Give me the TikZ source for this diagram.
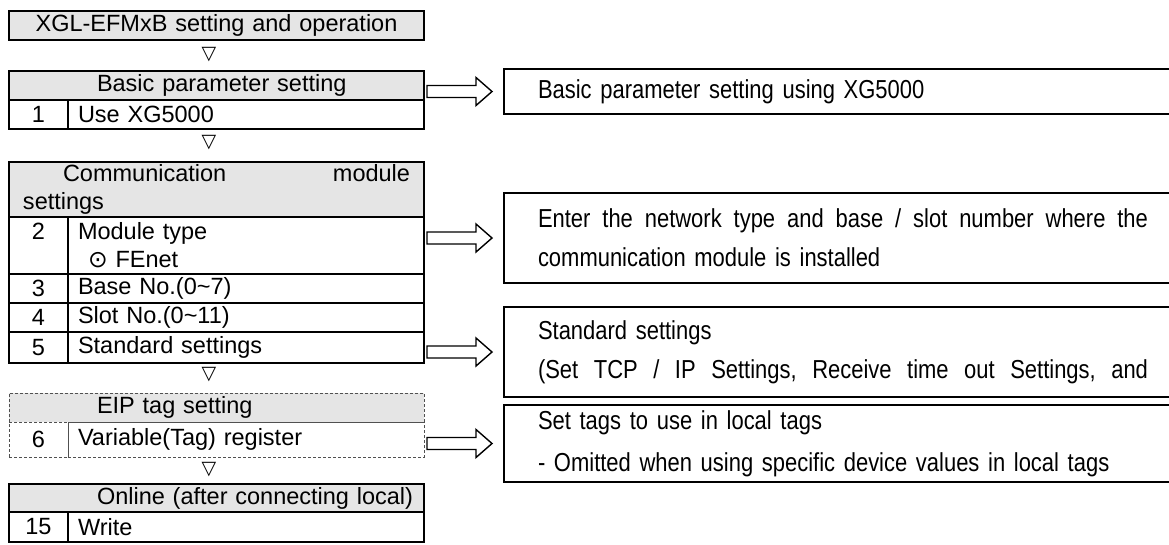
\documentclass[tikz,border=0pt]{standalone}
\usepackage{fontspec}
\setmainfont{Liberation Sans}
\newfontfamily\symfont{DejaVu Sans}
\newfontfamily\narrowfont[FakeStretch=0.845]{Liberation Sans}
\usetikzlibrary{positioning,calc}
\definecolor{hdrgray}{RGB}{229,229,229}
\definecolor{dashgray}{RGB}{80,80,80}
\newcommand\tblfont{\fontsize{23.5}{28}\selectfont}
\newcommand\notefont{\narrowfont\fontsize{26}{39}\selectfont}
\newcommand\gap{\hspace{0pt plus 1fill}\ }
\tikzset{
  tblline/.style={draw=black, line width=1.8pt, outer sep=0pt},
  hdr/.style={tblline, fill=hdrgray, minimum width=415pt, minimum height=29pt, anchor=north west, inner sep=0pt, text width=387pt, align=left, font=\tblfont},
  numcell/.style={tblline, minimum width=59pt, minimum height=29pt, anchor=north west, inner sep=0pt, align=center, font=\tblfont},
  itemcell/.style={tblline, minimum width=356pt, minimum height=29pt, anchor=north west, inner xsep=10pt, inner ysep=0pt, text width=336pt, align=left, font=\tblfont},
  dashcell/.style={draw=dashgray, line width=0.9pt, dash pattern=on 3pt off 2pt},
  notebox/.style={draw=black, line width=1.8pt, outer sep=0pt, anchor=north west, minimum width=678pt, inner xsep=34pt, inner ysep=0pt, text width=610pt, align=left, font=\notefont},
  tri/.style={inner sep=0pt, font=\symfont\fontsize{19}{19}\selectfont},
  blockarrow/.style={draw=black, line width=1.4pt, fill=white, line join=miter}
}
% hollow block arrow from a table box to a note box
\newcommand\blockarrow[2]{%
  \draw[blockarrow] let \p1=(#2.west -| #1.east), \p2=(#2.west) in
    (\x1+3pt,\y1+6pt) -- (\x2-28pt,\y1+6pt) -- (\x2-28pt,\y1+14pt) -- (\x2-12pt,\y1)
    -- (\x2-28pt,\y1-14pt) -- (\x2-28pt,\y1-6pt) -- (\x1+3pt,\y1-6pt) -- cycle;}

\begin{document}
\begin{tikzpicture}[x=1pt, y=-1pt]
\useasboundingbox (0,0) rectangle (1169,544);
\clip (0,0) rectangle (1169,544);

% left column
\node[hdr, align=center] (title) at (9,11) {XGL-EFMxB setting and operation};
\node[tri] (t1) at (209,55) {▽};

\node[hdr] (basic) at (9,71) {\hspace*{74pt}\mbox{Basic parameter setting}};
\node[numcell, below=0pt of basic.south west, anchor=north west] (n1) {1};
\node[itemcell, right=0pt of n1.north east, anchor=north west] (i1) {Use XG5000};
\node[tri] (t2) at (209,143) {▽};

\node[hdr, minimum height=55pt] (comm) at (9,162) {\hspace*{40pt}Communication\hfill module\\settings};
\node[numcell, minimum height=57pt, below=0pt of comm.south west, anchor=north west] (n2) {2\\\mbox{}};
\node[itemcell, minimum height=57pt, right=0pt of n2.north east, anchor=north west] (i2) {Module type\\\hspace*{10pt}{\symfont ⊙} FEnet};
\node[numcell, below=0pt of n2.south west, anchor=north west] (n3) {3};
\node[itemcell, right=0pt of n3.north east, anchor=north west] (i3) {Base No.(0\textasciitilde 7)};
\node[numcell, below=0pt of n3.south west, anchor=north west] (n4) {4};
\node[itemcell, right=0pt of n4.north east, anchor=north west] (i4) {Slot No.(0\textasciitilde 11)};
\node[numcell, minimum height=31pt, below=0pt of n4.south west, anchor=north west] (n5) {5};
\node[itemcell, minimum height=31pt, right=0pt of n5.north east, anchor=north west] (i5) {Standard settings};
\node[tri] (t3) at (209,375) {▽};

\node[hdr, dashcell] (eip) at (9,393) {\hspace*{74pt}\mbox{EIP tag setting}};
\node[numcell, dashcell, minimum height=35pt, below=0pt of eip.south west, anchor=north west] (n6) {6};
\node[itemcell, dashcell, minimum height=35pt, right=0pt of n6.north east, anchor=north west] (i6) {Variable(Tag) register};
\node[tri] (t4) at (209,470) {▽};

\node[hdr, minimum height=28pt] (online) at (9,484) {\hspace*{74pt}\mbox{Online (after connecting local)}};
\node[numcell, minimum height=30pt, below=0pt of online.south west, anchor=north west] (n15) {15};
\node[itemcell, minimum height=30pt, right=0pt of n15.north east, anchor=north west] (i15) {Write};

% right column
\node[notebox, minimum height=45pt] (note1) at (504,69) {Basic parameter setting using XG5000};
\node[notebox, minimum height=90pt] (note2) at (504,193) {\hbox to 610pt{Enter\gap the\gap network\gap type\gap and\gap base\gap /\gap slot\gap number\gap where\gap the}\\communication module is installed};
\node[notebox, minimum height=90pt] (note3) at (504,307) {Standard settings\\\hbox to 610pt{(Set\gap TCP\gap /\gap IP\gap Settings,\gap Receive\gap time\gap out\gap Settings,\gap and}};
\node[notebox, minimum height=77pt, font=\narrowfont\fontsize{26}{42}\selectfont] (note4) at (504,405) {Set tags to use in local tags\\- Omitted when using specific device values in local tags};

\blockarrow{basic}{note1}
\blockarrow{comm}{note2}
\blockarrow{i5}{note3}
\blockarrow{eip}{note4}
\end{tikzpicture}
\end{document}
